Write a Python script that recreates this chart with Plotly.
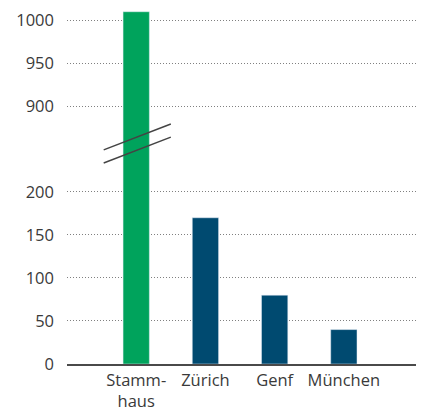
import plotly.graph_objects as go

# データ
standorte = ["Stamm-<br>haus", "Zürich", "Genf", "München"]
werte = [1010, 170, 80, 40]
farben = ["#00A35C", "#004A70", "#004A70", "#004A70"]

ticks_unten = [0, 50, 100, 150, 200]
ticks_oben = [900, 950, 1000]

TEXT = "#3a3a3a"
GRID = "#808080"
BRUCH = 0.61  # Achsenbruch (Anteil der Plothöhe)

fig = go.Figure()

# unterer Teil (0–250)
fig.add_trace(go.Bar(
    x=standorte, y=werte, marker_color=farben, width=0.38,
    xaxis="x", yaxis="y", showlegend=False, hoverinfo="x+y"
))
# oberer Teil (850–1012)
fig.add_trace(go.Bar(
    x=standorte, y=werte, marker_color=farben, width=0.38,
    xaxis="x", yaxis="y2", showlegend=False, hoverinfo="x+y"
))

achse_y = dict(
    showgrid=True, gridcolor=GRID, griddash="1px,2px", gridwidth=1,
    zeroline=False, showline=False, ticks="",
    tickfont=dict(size=16.5, color=TEXT), ticklabelstandoff=12,
    automargin=False,
)

# Seite hat 8px Rand -> Figur etwas kleiner
fig.update_layout(
    width=416, height=404,
    margin=dict(l=59, r=4, t=2, b=48),
    paper_bgcolor="white", plot_bgcolor="white",
    font=dict(family="Open Sans, Noto Sans, sans-serif", color=TEXT),
    bargap=0.6,
    xaxis=dict(
        domain=[0, 1], anchor="y", range=[-1.0, 4.1],
        showline=True, linecolor="#4a4a4a", linewidth=1.5,
        ticks="", showgrid=False, tickfont=dict(size=16.5, color=TEXT),
        ticklabelstandoff=0, automargin=False,
    ),
    yaxis=dict(domain=[0, BRUCH], range=[0, 251], tickvals=ticks_unten, **achse_y),
    yaxis2=dict(domain=[BRUCH, 1], range=[851, 1012], tickvals=ticks_oben,
                anchor="x", **achse_y),
)

# Bruchzeichen (zwei parallele Schrägstriche)
for dy in (0.0, -0.037):
    fig.add_shape(
        type="line", xref="x", yref="paper",
        x0=-0.47, x1=0.5, y0=BRUCH + dy - 0.005, y1=BRUCH + dy + 0.068,
        line=dict(color="#444444", width=1.5),
    )

fig.write_html("out.html")
